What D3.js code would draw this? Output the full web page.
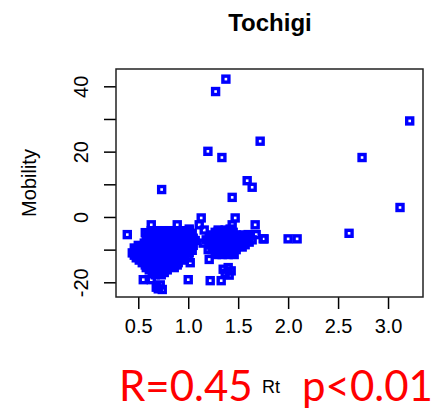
<!DOCTYPE html>
<html>
<head>
<meta charset="utf-8">
<script src="https://cdn.jsdelivr.net/npm/d3@7"></script>
<style>
  body { margin: 0; background: #fff; }
  svg { font-family: "Liberation Sans", Arial, sans-serif; }
</style>
</head>
<body>
<svg id="chart" width="440" height="409"></svg>
<script>
// Tochigi: Rt vs Mobility
const title = 'Tochigi';
const xTicks = [0.5, 1.0, 1.5, 2.0, 2.5, 3.0];
const yTicks = [-20, -10, 0, 10, 20, 30, 40];
const yLabelled = [-20, 0, 20, 40];

const rt = [
  // outliers
  1.377, 1.274, 3.217, 1.72, 1.197, 1.337, 2.74, 0.734, 1.59, 1.64, 1.44, 3.12, 2.61, 2.0, 2.09, 1.76, 0.39,
  // upper edge
  0.63, 0.89, 1.13, 1.11, 1.01, 0.92, 0.57, 1.47, 1.44, 1.42, 1.67, 1.60, 1.68, 1.53, 1.75, 1.37, 1.30,
  // bottom
  0.55, 0.63, 1.0, 1.22, 1.33, 0.70, 0.68, 0.74, 0.72, 1.40, 1.43, 1.37, 1.41, 1.35,
  // left cluster
  0.60, 0.66, 0.72, 0.78, 0.84, 0.98, 1.04,
  0.58, 0.64, 0.70, 0.76, 0.82, 0.88, 0.94, 1.00, 1.05,
  0.56, 0.62, 0.68, 0.74, 0.80, 0.86, 0.92, 0.98, 1.04,
  0.46, 0.53, 0.60, 0.66, 0.72, 0.78, 0.84, 0.90, 0.96, 1.02,
  0.44, 0.50, 0.56, 0.62, 0.68, 0.74, 0.80, 0.86, 0.92, 1.01,
  0.48, 0.53, 0.58, 0.64, 0.70, 0.76, 0.82, 0.88, 0.94, 1.00,
  0.54, 0.62, 0.68, 0.71, 0.78, 0.84, 0.90, 1.02,
  0.58, 0.66, 0.72, 0.78, 0.86,
  0.64, 0.70, 0.76,
  0.63, 0.69, 0.75, 0.81, 0.87, 0.95, 1.01,
  0.61, 0.67, 0.73, 0.79, 0.85, 0.91, 0.97, 1.03,
  0.59, 0.65, 0.71, 0.77, 0.83, 0.89, 0.95, 1.01, 1.07,
  0.50, 0.57, 0.63, 0.69, 0.75, 0.81, 0.87, 0.93, 0.99, 1.05,
  0.47, 0.53, 0.59, 0.65, 0.71, 0.77, 0.83, 0.89, 0.95, 1.04,
  0.46, 0.51, 0.57, 0.61, 0.67, 0.73, 0.79, 0.85, 0.91, 0.97,
  0.51, 0.58, 0.65, 0.73, 0.81, 0.87, 0.96,
  0.57, 0.63, 0.69, 0.75, 0.81, 0.89,
  0.61, 0.67, 0.73, 0.79,
  0.67, 0.73,
  // bridge
  1.16, 1.18, 1.20, 1.21, 1.15,
  // right cluster
  1.30, 1.37, 1.42,
  1.24, 1.30, 1.36, 1.42, 1.48, 1.55, 1.62,
  1.22, 1.28, 1.34, 1.40, 1.46, 1.52, 1.58, 1.64,
  1.21, 1.27, 1.33, 1.39, 1.45, 1.51, 1.57,
  1.24, 1.30, 1.36, 1.42, 1.48,
  1.28, 1.34, 1.40, 1.46,
  1.27, 1.33, 1.39, 1.45,
  1.21, 1.27, 1.33, 1.39, 1.45, 1.51, 1.58,
  1.25, 1.31, 1.37, 1.43, 1.49, 1.55, 1.61,
  1.24, 1.30, 1.36, 1.42, 1.48, 1.54,
  1.27, 1.33, 1.39, 1.45
];
const mobility = [
  42.2, 38.4, 29.4, 23.2, 20.1, 18.2, 18.2, 8.4, 11.1, 9.1, 6.0, 2.9, -5.0, -6.7, -6.7, -6.7, -5.4,
  -2.4, -2.4, -0.3, -2.4, -3.7, -4.9, -4.8, -0.3, -2.4, -3.7, -2.4, -5.4, -5.4, -6.7, -6.7, -4.9, -4.4,
  -19.2, -19.2, -19.2, -19.5, -19.5, -22.0, -21.5, -22.2, -20.8, -15.5, -16.5, -17.2, -17.8, -16.0,
  -5, -5, -5, -5, -5, -5, -5,
  -6.5, -6.5, -6.5, -6.5, -6.5, -6.5, -6.5, -6.5, -6.5,
  -8, -8, -8, -8, -8, -8, -8, -8, -8,
  -9.5, -9.5, -9.5, -9.5, -9.5, -9.5, -9.5, -9.5, -9.5, -9.5,
  -11, -11, -11, -11, -11, -11, -11, -11, -11, -11,
  -12.5, -12.5, -12.5, -12.5, -12.5, -12.5, -12.5, -12.5, -12.5, -12.5,
  -14, -14, -14, -14, -14, -14, -14, -14,
  -15.5, -15.5, -15.5, -15.5, -15.5,
  -17, -17, -17,
  -4.2, -4.2, -4.2, -4.2, -4.2, -4.2, -4.2,
  -5.7, -5.7, -5.7, -5.7, -5.7, -5.7, -5.7, -5.7,
  -7.2, -7.2, -7.2, -7.2, -7.2, -7.2, -7.2, -7.2, -7.2,
  -8.7, -8.7, -8.7, -8.7, -8.7, -8.7, -8.7, -8.7, -8.7, -8.7,
  -10.2, -10.2, -10.2, -10.2, -10.2, -10.2, -10.2, -10.2, -10.2, -10.2,
  -11.7, -11.7, -11.7, -11.7, -11.7, -11.7, -11.7, -11.7, -11.7, -11.7,
  -13.2, -13.2, -13.2, -13.2, -13.2, -13.2, -13.2,
  -14.7, -14.7, -14.7, -14.7, -14.7, -14.7,
  -16.2, -16.2, -16.2, -16.2,
  -17.7, -17.7,
  -4, -7, -10, -13, -8,
  -4, -4, -4,
  -5.5, -5.5, -5.5, -5.5, -5.5, -5.5, -5.5,
  -7, -7, -7, -7, -7, -7, -7, -7,
  -8.5, -8.5, -8.5, -8.5, -8.5, -8.5, -8.5,
  -10, -10, -10, -10, -10,
  -11.5, -11.5, -11.5, -11.5,
  -4.7, -4.7, -4.7, -4.7,
  -6.2, -6.2, -6.2, -6.2, -6.2, -6.2, -6.2,
  -7.7, -7.7, -7.7, -7.7, -7.7, -7.7, -7.7,
  -9.2, -9.2, -9.2, -9.2, -9.2, -9.2,
  -10.7, -10.7, -10.7, -10.7
];

const data = rt.map((d, i) => ({ rt: d, mob: mobility[i] }));

const svg = d3.select('#chart');
const box = { left: 116, right: 423, top: 69, bottom: 297 };

const xScale = d3.scaleLinear()
  .domain([0.277, 3.35])
  .range([box.left, box.right]);

const yScale = d3.scaleLinear()
  .domain([-24.5, 45.3])
  .range([box.bottom, box.top]);

// x axis
const xAxisG = svg.append('g')
  .attr('transform', `translate(0, ${box.bottom})`)
  .call(d3.axisBottom(xScale)
    .tickValues(xTicks)
    .tickSize(12)
    .tickPadding(10)
    .tickFormat(d3.format('.1f')));
xAxisG.select('.domain').remove();
xAxisG.selectAll('.tick line').attr('stroke', '#000').attr('stroke-width', 1.5);
xAxisG.selectAll('.tick text')
  .attr('fill', '#000')
  .style('font-size', '20px');

// y axis
const yAxisG = svg.append('g')
  .attr('transform', `translate(${box.left}, 0)`)
  .call(d3.axisLeft(yScale)
    .tickValues(yTicks)
    .tickSize(12)
    .tickFormat(d => yLabelled.includes(d) ? d : ''));
yAxisG.select('.domain').remove();
yAxisG.selectAll('.tick line').attr('stroke', '#000').attr('stroke-width', 1.5);
yAxisG.selectAll('.tick text')
  .attr('fill', '#000')
  .attr('x', 0)
  .attr('y', -28)
  .attr('dy', null)
  .attr('text-anchor', 'middle')
  .attr('transform', 'rotate(-90)')
  .style('font-size', '20px');

// box
svg.append('rect')
  .attr('x', box.left)
  .attr('y', box.top)
  .attr('width', box.right - box.left)
  .attr('height', box.bottom - box.top)
  .attr('fill', 'none')
  .attr('stroke', '#222')
  .attr('stroke-width', 1.5);

// points (open squares, thick)
svg.append('g').selectAll('rect')
  .data(data)
  .enter()
  .append('rect')
    .attr('x', d => xScale(d.rt) - 3)
    .attr('y', d => yScale(d.mob) - 3)
    .attr('width', 6)
    .attr('height', 6)
    .attr('fill', 'none')
    .attr('stroke', '#0000ff')
    .attr('stroke-width', 3.4);

// labels
svg.append('text')
  .attr('x', 270)
  .attr('y', 31)
  .attr('text-anchor', 'middle')
  .attr('font-weight', 'bold')
  .style('font-size', '24px')
  .text(title);

svg.append('text')
  .attr('transform', `translate(36, ${(box.top + box.bottom) / 2}) rotate(-90)`)
  .attr('text-anchor', 'middle')
  .style('font-size', '20px')
  .text('Mobility');

svg.append('text')
  .attr('x', 271)
  .attr('y', 393)
  .attr('text-anchor', 'middle')
  .style('font-size', '18px')
  .text('Rt');

// annotation
svg.append('text')
  .attr('x', 119)
  .attr('y', 401)
  .attr('fill', '#ff0000')
  .style('font-family', 'Lato, sans-serif')
  .style('font-size', '42px')
  .text('R=0.45');

svg.append('text')
  .attr('x', 302)
  .attr('y', 401)
  .attr('fill', '#ff0000')
  .style('font-family', 'Lato, sans-serif')
  .style('font-size', '42px')
  .text('p<0.01');
</script>
</body>
</html>
